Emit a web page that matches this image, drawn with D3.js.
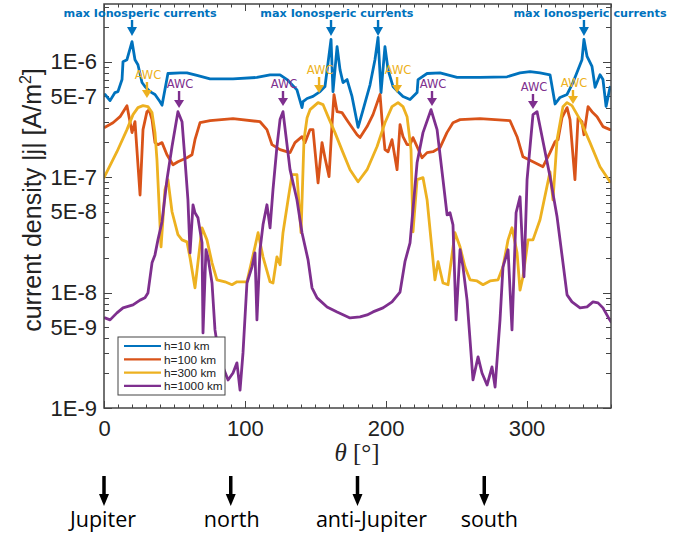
<!DOCTYPE html>
<html><head><meta charset="utf-8">
<script src="https://cdn.jsdelivr.net/npm/d3@7"></script>
<style>body{margin:0;background:#fff}svg{display:block}</style>
</head><body>
<svg id="chart" width="682" height="536"></svg>
<script>
// ---------------- data ----------------
const seriesNames = ["h=10 km", "h=100 km", "h=300 km", "h=1000 km"];
const seriesColors = ["#0072BD", "#D95319", "#EDB120", "#7E2F8E"];

// [theta (deg), |j| (A/m^2)]
const h10 = [[0.7,5.2e-7],[4.3,4.6e-7],[7.8,5.4e-7],[9.9,5.5e-7],[12.8,7.0e-7],[13.5,1.0e-6],[16.3,1.04e-6],[19.9,1.49e-6],[22.0,1.04e-6],[24.1,9.4e-7],[27.0,6.6e-7],[29.1,6.1e-7],[32.7,5.5e-7],[36.2,5.2e-7],[39.8,4.5e-7],[41.2,4.2e-7],[45.4,7.9e-7],[54.0,8.0e-7],[58.9,8.0e-7],[66.0,7.6e-7],[75.3,7.1e-7],[91.6,7.1e-7],[108.6,7.3e-7],[117.9,7.7e-7],[125.0,7.7e-7],[130.0,7.0e-7],[137.0,5.7e-7],[140.6,4.0e-7],[141.3,4.5e-7],[144.2,4.8e-7],[148.4,5.0e-7],[153.4,5.5e-7],[156.9,6.1e-7],[159.1,9.8e-7],[161.2,1.56e-6],[162.6,5.5e-7],[165.5,1.35e-6],[167.6,8.5e-7],[169.7,6.6e-7],[172.6,7.0e-7],[176.1,5.0e-7],[180.4,2.7e-7],[183.9,3.8e-7],[188.9,6.3e-7],[192.4,1.04e-6],[194.6,1.62e-6],[196.7,5.4e-7],[199.5,1.35e-6],[201.7,8.5e-7],[205.2,6.1e-7],[208.8,5.5e-7],[212.3,5.0e-7],[217.3,4.7e-7],[222.3,5.4e-7],[223.0,7.0e-7],[229.4,7.9e-7],[238.6,8.0e-7],[250.7,7.3e-7],[267.0,7.3e-7],[286.2,7.4e-7],[295.4,8.0e-7],[302.5,8.2e-7],[309.6,8.0e-7],[316.7,7.7e-7],[320.3,4.3e-7],[323.8,4.9e-7],[328.8,5.2e-7],[333.0,6.6e-7],[336.6,8.5e-7],[339.4,1.04e-6],[340.8,1.56e-6],[343.0,1.11e-6],[346.5,9.1e-7],[348.7,6.0e-7],[352.2,7.7e-7],[354.3,7.0e-7],[356.5,4.1e-7],[359.3,6.0e-7]];

const h100 = [[0.7,2.7e-7],[6.4,2.96e-7],[11.4,3.34e-7],[16.3,4.16e-7],[19.9,2.43e-7],[22.0,3.02e-7],[25.6,7.0e-8],[27.7,2.58e-7],[30.5,3.69e-7],[32.0,3.84e-7],[34.1,3.15e-7],[36.2,1.99e-7],[38.3,1.91e-7],[41.2,1.99e-7],[44.7,1.56e-7],[49.0,1.28e-7],[52.5,1.36e-7],[58.9,1.47e-7],[62.5,1.56e-7],[64.6,2.11e-7],[68.2,2.96e-7],[75.3,3.08e-7],[91.6,3.21e-7],[110.8,3.02e-7],[115.7,2.58e-7],[119.3,1.91e-7],[125.0,1.73e-7],[132.1,1.63e-7],[135.6,1.99e-7],[140.6,2.24e-7],[142.7,1.99e-7],[146.3,2.58e-7],[148.4,2.58e-7],[152.0,8.9e-8],[154.8,1.99e-7],[156.9,1.47e-7],[159.8,1.01e-7],[161.9,2.85e-7],[163.3,5.19e-7],[165.5,3.69e-7],[169.0,3.62e-7],[173.3,3.02e-7],[179.7,2.33e-7],[181.8,2.20e-7],[186.8,2.74e-7],[191.0,3.48e-7],[196.0,5.19e-7],[197.4,3.15e-7],[199.5,1.73e-7],[201.7,1.66e-7],[204.5,2.11e-7],[208.1,1.16e-7],[210.2,2.85e-7],[212.3,2.24e-7],[215.2,1.91e-7],[217.3,1.91e-7],[219.4,2.20e-7],[222.3,1.84e-7],[225.8,1.47e-7],[229.4,1.63e-7],[233.6,1.66e-7],[238.6,1.80e-7],[243.5,2.43e-7],[247.8,2.96e-7],[252.8,3.15e-7],[267.0,3.21e-7],[288.3,3.08e-7],[293.3,2.24e-7],[297.5,1.50e-7],[304.6,1.36e-7],[311.7,1.23e-7],[316.7,1.63e-7],[320.3,2.03e-7],[322.4,2.11e-7],[325.2,3.27e-7],[328.8,4.0e-7],[330.9,3.15e-7],[334.4,9.5e-8],[336.6,3.27e-7],[339.4,3.02e-7],[340.8,2.33e-7],[343.7,4.08e-7],[346.5,3.69e-7],[350.1,3.34e-7],[354.3,2.74e-7],[359.3,2.58e-7]];

const h300 = [[0,9.9e-8],[9.2,1.66e-7],[16.3,2.58e-7],[20.6,3.48e-7],[24.1,4.0e-7],[27.7,4.16e-7],[31.2,4.08e-7],[34.1,3.62e-7],[36.2,2.43e-7],[37.6,1.42e-7],[39.1,5.76e-8],[40.5,2.49e-8],[43.3,7.78e-8],[45.4,9.5e-8],[48.3,5.01e-8],[52.5,3.17e-8],[55.4,2.86e-8],[58.9,2.75e-8],[61.1,2.0e-8],[64.6,1.10e-8],[69.6,3.64e-8],[73.1,2.86e-8],[76.7,1.81e-8],[80.2,1.29e-8],[85.9,1.24e-8],[90.9,1.17e-8],[94.4,1.24e-8],[101.5,1.24e-8],[107.2,2.49e-8],[109.4,3.30e-8],[112.9,2.04e-8],[117.9,1.24e-8],[120.0,1.21e-8],[122.8,2.04e-8],[125.0,1.74e-8],[127.1,3.30e-8],[130.7,6.37e-8],[133.5,1.05e-7],[137.0,1.05e-7],[139.9,3.30e-8],[142.0,2.11e-7],[144.2,3.27e-7],[146.3,3.84e-7],[152.0,4.42e-7],[155.5,4.25e-7],[159.1,3.34e-7],[164.0,2.43e-7],[169.7,1.63e-7],[174.7,1.16e-7],[180.4,9.12e-8],[186.8,1.16e-7],[193.9,1.84e-7],[199.5,2.96e-7],[204.5,4.08e-7],[208.8,4.42e-7],[212.3,4.08e-7],[215.2,3.34e-7],[218.0,1.73e-7],[219.4,3.36e-8],[222.3,9.5e-8],[226.5,9.9e-8],[229.4,6.37e-8],[233.6,1.92e-8],[235.0,1.29e-8],[237.2,1.85e-8],[240.7,1.21e-8],[244.3,1.17e-8],[249.2,3.30e-8],[252.8,2.49e-8],[256.3,1.67e-8],[259.9,1.29e-8],[264.9,1.26e-8],[269.1,1.17e-8],[274.1,1.26e-8],[279.8,1.29e-8],[283.3,1.67e-8],[286.9,2.86e-8],[289.7,3.64e-8],[293.3,2.21e-8],[295.4,1.05e-8],[297.5,1.37e-8],[301.1,2.86e-8],[304.6,2.86e-8],[309.6,4.27e-8],[316.7,1.11e-7],[318.8,6.37e-8],[321.7,2.11e-7],[325.9,4.08e-7],[328.8,4.42e-7],[332.3,4.16e-7],[338.0,3.15e-7],[345.1,1.99e-7],[352.2,1.23e-7],[359.3,9.12e-8]];

const h1000 = [[0.7,6.03e-9],[4.3,5.80e-9],[9.2,6.67e-9],[13.5,7.37e-9],[20.6,7.82e-9],[25.6,8.6e-9],[29.1,9.0e-9],[31.2,9.9e-9],[34.1,1.81e-8],[36.2,2.12e-8],[38.3,2.86e-8],[41.2,4.11e-8],[44.7,9.5e-8],[48.3,1.84e-7],[52.5,3.69e-7],[55.4,3.02e-7],[57.5,1.42e-7],[59.6,6.37e-8],[61.1,2.21e-8],[63.2,5.76e-8],[64.6,4.91e-8],[66.7,4.44e-8],[69.6,2.70e-8],[70.3,4.47e-9],[72.4,2.35e-8],[73.9,2.0e-8],[76.7,1.21e-8],[78.8,4.75e-9],[81.0,3.18e-9],[84.5,2.27e-9],[88.1,1.75e-9],[91.6,2.01e-9],[94.4,2.46e-9],[96.6,1.43e-9],[98.7,3.0e-9],[101.5,1.21e-8],[105.1,1.67e-8],[107.2,2.21e-8],[108.6,5.8e-9],[110.8,2.35e-8],[112.9,3.86e-8],[115.7,5.76e-8],[117.9,3.64e-8],[120.0,7.78e-8],[122.8,1.84e-7],[125.0,3.15e-7],[127.1,3.69e-7],[132.1,1.16e-7],[137.0,6.37e-8],[140.6,3.30e-8],[144.9,1.92e-8],[147.7,1.10e-8],[151.3,9.0e-9],[158.4,7.51e-9],[165.5,6.80e-9],[174.7,6.03e-9],[181.8,6.15e-9],[186.8,6.4e-9],[191.0,6.80e-9],[198.1,7.37e-9],[204.5,8.3e-9],[210.2,1.01e-8],[213.7,1.85e-8],[217.3,2.70e-8],[222.3,1.33e-7],[226.5,2.43e-7],[232.2,3.84e-7],[236.5,2.58e-7],[240.7,9.5e-8],[243.6,4.72e-8],[245.7,4.91e-8],[247.8,3.86e-8],[250.0,5.8e-9],[252.8,2.35e-8],[254.9,1.67e-8],[257.8,8.6e-9],[259.9,3.9e-9],[262.0,1.75e-9],[265.6,2.77e-9],[268.4,2.01e-9],[272.0,1.58e-9],[275.5,2.27e-9],[277.7,1.52e-9],[281.2,5.8e-9],[283.3,1.67e-8],[286.9,2.35e-8],[289.7,4.75e-9],[292.6,4.91e-8],[295.4,6.76e-8],[298.2,1.37e-8],[300.4,9.5e-8],[304.6,3.48e-7],[307.5,3.69e-7],[309.6,2.74e-7],[316.7,1.01e-7],[321.7,4.53e-8],[325.9,1.81e-8],[328.8,9.55e-9],[332.3,8.3e-9],[338.0,7.37e-9],[343.0,7.51e-9],[347.2,8.3e-9],[350.8,8.14e-9],[354.3,7.37e-9],[357.9,6.15e-9],[360,5.57e-9]];

const yTickValues = [1e-6, 5e-7, 1e-7, 5e-8, 1e-8, 5e-9, 1e-9];
const yTickLabels = ["1E-6", "5E-7", "1E-7", "5E-8", "1E-8", "5E-9", "1E-9"];
const xTickValues = [0, 100, 200, 300];
const xTickLabels = ["0", "100", "200", "300"];

const maxCurrentLabelTheta = [25.6, 165.4, 345.1];
const maxCurrentLabel = "max Ionosperic currents";
const maxCurrentArrowTheta = [19.9, 161.2, 194.6, 340.8];

const awcTheta = [30.5, 53.3, 127.1, 152.7, 208.1, 232.9, 304.6, 333.0];
const awcSeries = [2, 3, 3, 2, 2, 3, 3, 2];
const awcLabel = "AWC";

const directionTheta = [0, 90, 180, 270];
const directionLabels = ["Jupiter", "north", "anti-Jupiter", "south"];

// ---------------- layout ----------------
const frame = {left: 104, right: 611, top: 4, bottom: 408};
const awcTextY = [79, 88, 88, 74, 74, 88, 91, 87];
const awcTipY = [98, 108, 106, 93, 93, 106, 109, 104];
const directionLabelDx = [-1, 1, 14, 5];

const svg = d3.select("#chart");
const x = d3.scaleLinear().domain([0, 360]).range([frame.left, frame.right]);
const y = d3.scaleLog().domain([1e-9, 3.16e-6]).range([frame.bottom, frame.top]);

const axisColor = "#444";

// clip
svg.append("defs").append("clipPath").attr("id", "clip")
  .append("rect").attr("x", frame.left).attr("y", frame.top)
  .attr("width", frame.right - frame.left).attr("height", frame.bottom - frame.top);

// ticks
const tickG = svg.append("g").attr("stroke", axisColor).attr("stroke-width", 1);
const minorY = [];
for (let e = -9; e <= -6; e++) for (let k = 1; k <= 9; k++) {
  const v = k * Math.pow(10, e);
  if (v <= 3.16e-6) minorY.push({v, major: k === 1});
}
minorY.forEach(t => {
  const yy = Math.round(y(t.v)) + 0.5;
  const len = t.major ? 8 : 5;
  tickG.append("line").attr("x1", frame.left).attr("x2", frame.left + len).attr("y1", yy).attr("y2", yy);
  tickG.append("line").attr("x1", frame.right).attr("x2", frame.right - len).attr("y1", yy).attr("y2", yy);
});
for (let t = 0; t <= 360; t += 10) {
  const xx = Math.round(x(t)) + 0.5;
  const len = (t % 100 === 0) ? 7 : 3.5;
  tickG.append("line").attr("x1", xx).attr("x2", xx).attr("y1", frame.bottom).attr("y2", frame.bottom - len);
  tickG.append("line").attr("x1", xx).attr("x2", xx).attr("y1", frame.top).attr("y2", frame.top + len);
}

// axes labels via d3 axes
const yAxis = d3.axisLeft(y).tickValues(yTickValues)
  .tickFormat((d, i) => yTickLabels[i]).tickSize(0).tickPadding(7);
const gy = svg.append("g").attr("transform", `translate(${frame.left},0)`).call(yAxis);
gy.select(".domain").remove();
gy.selectAll("text").attr("font-family", "Liberation Sans, Arial, sans-serif")
  .attr("font-size", 22).attr("fill", "#222");

const xAxis = d3.axisBottom(x).tickValues(xTickValues)
  .tickFormat((d, i) => xTickLabels[i]).tickSize(0).tickPadding(12);
const gx = svg.append("g").attr("transform", `translate(0,${frame.bottom})`).call(xAxis);
gx.select(".domain").remove();
gx.selectAll("text").attr("font-family", "Liberation Sans, Arial, sans-serif")
  .attr("font-size", 22).attr("fill", "#222");

// series
const allSeries = [h10, h100, h300, h1000];
const line = d3.line().x(d => x(d[0])).y(d => y(d[1])).curve(d3.curveLinear);
const linesG = svg.append("g").attr("clip-path", "url(#clip)");
allSeries.forEach((s, i) => {
  linesG.append("path").datum(s).attr("d", line)
    .attr("fill", "none").attr("stroke", seriesColors[i])
    .attr("stroke-width", 2.8).attr("stroke-linejoin", "round").attr("stroke-linecap", "round");
});

// frame
svg.append("rect").attr("x", frame.left).attr("y", frame.top)
  .attr("width", frame.right - frame.left).attr("height", frame.bottom - frame.top)
  .attr("fill", "none").attr("stroke", axisColor).attr("stroke-width", 1.5);

// arrow helper
function arrow(g, xx, y1, y2, color, shaftW, headW, headL) {
  g.append("line").attr("x1", xx).attr("x2", xx).attr("y1", y1).attr("y2", y2 - headL + 1)
    .attr("stroke", color).attr("stroke-width", shaftW);
  g.append("path").attr("d", `M${xx - headW / 2},${y2 - headL} L${xx + headW / 2},${y2 - headL} L${xx},${y2} Z`)
    .attr("fill", color);
}

const annG = svg.append("g");
// max ionospheric currents
maxCurrentLabelTheta.forEach(t => {
  annG.append("text").attr("x", x(t)).attr("y", 17).attr("text-anchor", "middle")
    .attr("font-family", "DejaVu Sans, Verdana, sans-serif").attr("font-weight", "bold")
    .attr("font-size", 11.2).attr("fill", seriesColors[0]).text(maxCurrentLabel);
});
maxCurrentArrowTheta.forEach(t => arrow(annG, x(t), 20, 36, seriesColors[0], 2.4, 10, 9));

// AWC
awcTheta.forEach((t, i) => {
  const c = seriesColors[awcSeries[i]];
  annG.append("text").attr("x", x(t) + 1).attr("y", awcTextY[i]).attr("text-anchor", "middle")
    .attr("font-family", "DejaVu Sans, Verdana, sans-serif")
    .attr("font-size", 11.5).attr("fill", c).text(awcLabel);
  arrow(annG, x(t), awcTextY[i] + 3, awcTipY[i], c, 2.4, 10, 8);
});

// legend
const lg = svg.append("g");
lg.append("rect").attr("x", 118).attr("y", 337).attr("width", 107).attr("height", 58)
  .attr("fill", "#fff").attr("stroke", axisColor).attr("stroke-width", 1);
seriesNames.forEach((n, i) => {
  const yy = 346 + i * 13.3;
  lg.append("line").attr("x1", 124).attr("x2", 161).attr("y1", yy).attr("y2", yy)
    .attr("stroke", seriesColors[i]).attr("stroke-width", 2.2);
  lg.append("text").attr("x", 164).attr("y", yy + 4.2)
    .attr("font-family", "Liberation Sans, Arial, sans-serif").attr("font-size", 11.8)
    .attr("fill", "#222").text(n);
});

// y label
const yl = svg.append("text").attr("transform", "translate(41,200) rotate(-90)")
  .attr("text-anchor", "middle").attr("font-family", "Liberation Sans, Arial, sans-serif")
  .attr("font-size", 25).attr("fill", "#222");
yl.append("tspan").text("current density |j| [A/m");
yl.append("tspan").attr("font-size", 16).attr("dy", -10).text("2");
yl.append("tspan").attr("dy", 10).text("]");

// x label
const xl = svg.append("text").attr("x", 357).attr("y", 461).attr("text-anchor", "middle")
  .attr("font-family", "Liberation Serif, Times New Roman, serif").attr("font-size", 25).attr("fill", "#222");
xl.append("tspan").attr("font-style", "italic").text("θ");
xl.append("tspan").text(" [°]");

// direction arrows
const dg = svg.append("g");
directionTheta.forEach((t, i) => {
  arrow(dg, x(t), 476, 506, "#000", 3.5, 10, 12);
  dg.append("text").attr("x", x(t) + directionLabelDx[i]).attr("y", 527).attr("text-anchor", "middle")
    .attr("font-family", "Open Sans, DejaVu Sans, sans-serif").attr("font-size", 21.5)
    .attr("fill", "#000").text(directionLabels[i]);
});
</script>
</body></html>
